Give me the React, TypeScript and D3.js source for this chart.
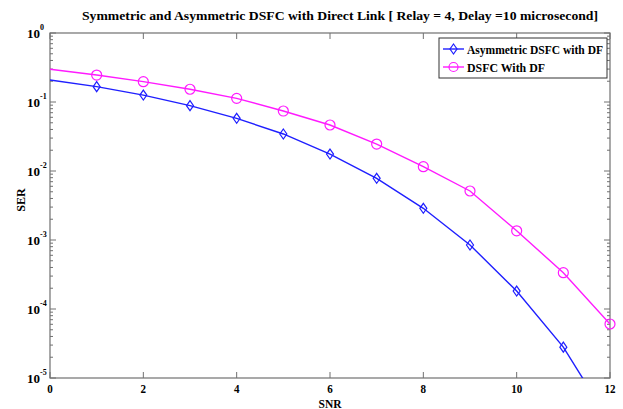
import React from "react";
import * as d3 from "d3";

const snr = [0, 1, 2, 3, 4, 5, 6, 7, 8, 9, 10, 11, 12];
const asymSER = [0.208, 0.167, 0.126, 0.0885, 0.058, 0.0344, 0.0176, 0.00784, 0.00288, 0.000847, 0.000182, 0.000028, 0.0000023];
const dsfcSER = [0.298, 0.246, 0.197, 0.153, 0.113, 0.074, 0.0464, 0.0246, 0.01155, 0.00513, 0.00136, 0.000336, 0.0000606];
const xTicks = [0, 2, 4, 6, 8, 10, 12];
const yExponents = [0, -1, -2, -3, -4, -5];
const seriesNames = ["Asymmetric DSFC with DF", "DSFC With DF"];
const titleText = "Symmetric  and  Asymmetric  DSFC  with  Direct  Link [ Relay = 4, Delay =10 microsecond]";

const W = 623, H = 409;
const m = { left: 50, right: 610, top: 33, bottom: 378 };
const FONT = "'Liberation Serif', 'DejaVu Serif', serif";
const AX = "#707070";

export default function App() {
  const x = d3.scaleLinear().domain([0, 12]).range([m.left, m.right]);
  const y = d3.scaleLog().domain([1e-5, 1]).range([m.bottom, m.top]);
  const line = d3.line<number>().x((_, i) => x(snr[i])).y((v) => y(v));
  const minor: number[] = [];
  for (let e = -5; e < 0; e++) for (let k = 2; k <= 9; k++) minor.push(k * Math.pow(10, e));
  const diamond = (cx: number, cy: number) => `M${cx},${cy - 5}L${cx + 3.5},${cy}L${cx},${cy + 5}L${cx - 3.5},${cy}Z`;
  const blue = "#1f1fff", pink = "#ff1aff";
  return (
    <svg width={W} height={H} style={{ position: "absolute", left: 0, top: 0, background: "#fff" }} fontFamily={FONT}>
      <defs>
        <clipPath id="pa"><rect x={m.left} y={m.top} width={m.right - m.left} height={m.bottom - m.top} /></clipPath>
      </defs>
      <text x={82} y={20} fontSize={12.5} fontWeight="bold" textLength={516} lengthAdjust="spacingAndGlyphs">{titleText}</text>
      <rect x={m.left} y={m.top} width={m.right - m.left} height={m.bottom - m.top} fill="none" stroke={AX} strokeWidth={1.2} />
      {xTicks.map((t) => (
        <g key={"x" + t}>
          <line x1={x(t)} x2={x(t)} y1={m.bottom} y2={m.bottom - 6} stroke={AX} />
          <line x1={x(t)} x2={x(t)} y1={m.top} y2={m.top + 6} stroke={AX} />
          <text x={x(t)} y={393} fontSize={13} fontWeight="bold" textAnchor="middle" transform={`translate(${x(t)},0) scale(0.85,1) translate(${-x(t)},0)`}>{t}</text>
        </g>
      ))}
      {yExponents.map((e) => {
        const yy = y(Math.pow(10, e));
        return (
          <g key={"y" + e}>
            <line x1={m.left} x2={m.left + 6} y1={yy} y2={yy} stroke={AX} />
            <line x1={m.right} x2={m.right - 6} y1={yy} y2={yy} stroke={AX} />
            <text x={40} y={yy + 5} fontSize={13} fontWeight="bold" textAnchor="end">10</text>
            <text x={40} y={yy - 3} fontSize={8} fontWeight="bold">{e}</text>
          </g>
        );
      })}
      {minor.map((v, i) => (
        <g key={"m" + i}>
          <line x1={m.left} x2={m.left + 3} y1={y(v)} y2={y(v)} stroke={AX} />
          <line x1={m.right} x2={m.right - 3} y1={y(v)} y2={y(v)} stroke={AX} />
        </g>
      ))}
      <text x={330} y={407.5} fontSize={11.5} fontWeight="bold" textAnchor="middle">SNR</text>
      <text transform="translate(25,200) rotate(-90)" fontSize={12} fontWeight="bold" textAnchor="middle">SER</text>
      <g clipPath="url(#pa)">
        <path d={line(asymSER) || ""} fill="none" stroke={blue} strokeWidth={1.4} />
        <path d={line(dsfcSER) || ""} fill="none" stroke={pink} strokeWidth={1.4} />
      </g>
      {asymSER.map((v, i) => i > 0 && v >= 1e-5 ? (
        <path key={"b" + i} d={diamond(x(snr[i]), y(v))} fill="none" stroke={blue} strokeWidth={1.2} />
      ) : null)}
      {dsfcSER.map((v, i) => i > 0 ? (
        <circle key={"p" + i} cx={x(snr[i])} cy={y(v)} r={5} fill="none" stroke={pink} strokeWidth={1.2} />
      ) : null)}
      <rect x={439} y={38} width={168} height={40} fill="#fff" stroke="#333" strokeWidth={1} />
      <line x1={443} x2={464} y1={49} y2={49} stroke={blue} strokeWidth={1.4} />
      <path d={diamond(453.5, 49)} fill="none" stroke={blue} strokeWidth={1.2} />
      <line x1={443} x2={464} y1={67} y2={67} stroke={pink} strokeWidth={1.4} />
      <circle cx={453.5} cy={67} r={4.5} fill="none" stroke={pink} strokeWidth={1.2} />
      <text x={467} y={54} fontSize={13} fontWeight="bold" textLength={136} lengthAdjust="spacingAndGlyphs">{seriesNames[0]}</text>
      <text x={467} y={72} fontSize={13} fontWeight="bold" textLength={78} lengthAdjust="spacingAndGlyphs">{seriesNames[1]}</text>
    </svg>
  );
}
